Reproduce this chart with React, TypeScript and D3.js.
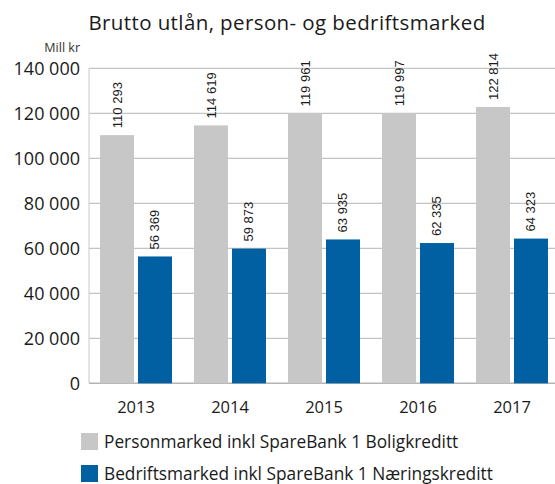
import React, { useEffect, useRef } from 'react';
import * as d3 from 'd3';

const years = ['2013', '2014', '2015', '2016', '2017'];
const personmarked = [110293, 114619, 119961, 119997, 122814];
const bedriftsmarked = [56369, 59873, 63935, 62335, 64323];
const seriesNames = [
  'Personmarked inkl SpareBank 1 Boligkreditt',
  'Bedriftsmarked inkl SpareBank 1 Næringskreditt',
];
const seriesColors = ['#c6c7c6', '#0060a1'];
const yTicks = [0, 20000, 40000, 60000, 80000, 100000, 120000, 140000];

const W = 555;
const H = 484;
const FONT = '"Open Sans", Lato, sans-serif';

const fmt = (v: number) => d3.format(',')(v).replace(/,/g, ' ');

export default function App() {
  const ref = useRef<SVGSVGElement>(null);

  useEffect(() => {
    const svg = d3.select(ref.current);
    svg.selectAll('*').remove();

    const left = 89;
    const right = 559;
    const top = 68.3;
    const bottom = 383.3;

    const x0 = d3.scaleBand<string>().domain(years).range([left, right])
      .paddingInner(0.234).paddingOuter(0.117);
    const x1 = d3.scaleBand<number>().domain([0, 1]).range([0, x0.bandwidth()])
      .paddingInner(0.105);
    const y = d3.scaleLinear().domain([0, 140000]).range([bottom, top]);

    // gridlines
    svg.append('g')
      .selectAll('line')
      .data(yTicks)
      .join('line')
      .attr('x1', left).attr('x2', W)
      .attr('y1', d => y(d)).attr('y2', d => y(d))
      .attr('stroke', '#b4b4b4')
      .attr('stroke-width', d => d === 0 ? 1.5 : 1);

    svg.append('line')
      .attr('x1', left).attr('x2', left)
      .attr('y1', top).attr('y2', bottom)
      .attr('stroke', '#c8c8c8').attr('stroke-width', 1);

    // tick labels
    svg.append('g')
      .selectAll('text')
      .data(yTicks)
      .join('text')
      .attr('x', 80)
      .attr('y', d => y(d))
      .attr('dy', '0.35em')
      .attr('text-anchor', 'end')
      .attr('font-family', FONT)
      .attr('font-size', 18)
      .attr('fill', '#1a1a1a')
      .text(d => fmt(d));

    svg.append('text')
      .attr('x', 80).attr('y', 52)
      .attr('text-anchor', 'end')
      .attr('font-family', FONT).attr('font-size', 12.5)
      .attr('fill', '#333')
      .text('Mill kr');

    svg.append('text')
      .attr('x', 287).attr('y', 30)
      .attr('text-anchor', 'middle')
      .attr('font-family', FONT).attr('font-size', 20.5)
      .attr('letter-spacing', 0.4)
      .attr('fill', '#1a1a1a')
      .text('Brutto utlån, person- og bedriftsmarked');

    const series = [personmarked, bedriftsmarked];
    const groups = svg.append('g')
      .selectAll('g')
      .data(years)
      .join('g')
      .attr('transform', d => `translate(${x0(d)},0)`);

    series.forEach((vals, si) => {
      groups.append('rect')
        .attr('x', x1(si)!)
        .attr('width', x1.bandwidth())
        .attr('y', (_, i) => y(vals[i]))
        .attr('height', (_, i) => bottom - y(vals[i]))
        .attr('fill', seriesColors[si]);

      groups.append('text')
        .attr('transform', (_, i) =>
          `translate(${x1(si)! + x1.bandwidth() / 2},${y(vals[i]) - 7}) rotate(-90)`)
        .attr('dominant-baseline', 'central')
        .attr('font-family', '"Liberation Sans", Arial, sans-serif')
        .attr('font-size', 13)
        .attr('fill', '#1a1a1a')
        .text((_, i) => fmt(vals[i]));
    });

    // x labels
    svg.append('g')
      .selectAll('text')
      .data(years)
      .join('text')
      .attr('x', d => x0(d)! + x0.bandwidth() / 2)
      .attr('y', 413)
      .attr('text-anchor', 'middle')
      .attr('font-family', FONT).attr('font-size', 16.5)
      .attr('fill', '#1a1a1a')
      .text(d => d);

    // legend
    const legend = svg.append('g')
      .selectAll('g')
      .data(seriesNames)
      .join('g')
      .attr('transform', (_, i) => `translate(81,${433 + i * 32})`);
    legend.append('rect')
      .attr('width', 17).attr('height', 17)
      .attr('fill', (_, i) => seriesColors[i]);
    legend.append('text')
      .attr('x', 23).attr('y', 8.5)
      .attr('dy', '0.35em')
      .attr('font-family', FONT).attr('font-size', 17.3)
      .attr('fill', '#1a1a1a')
      .text(d => d);
  }, []);

  return (
    <svg ref={ref} width={W} height={H}
      style={{ position: 'absolute', left: 0, top: 0, background: '#fff' }} />
  );
}
